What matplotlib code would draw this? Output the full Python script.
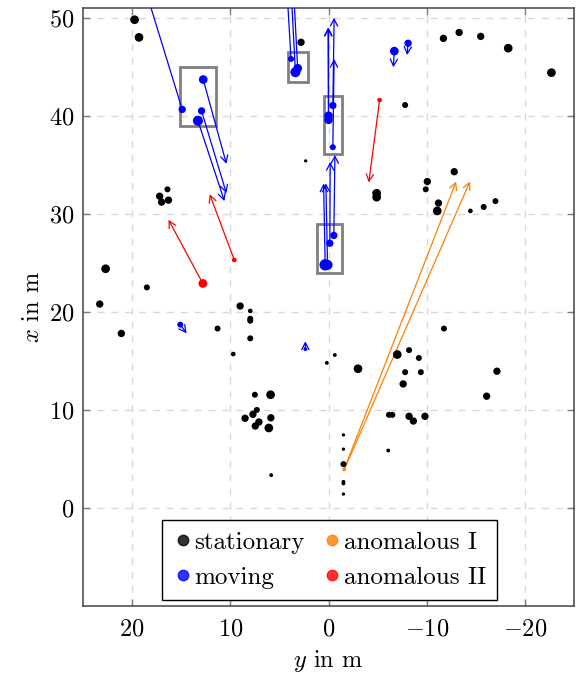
import matplotlib
matplotlib.use("Agg")
import matplotlib.pyplot as plt
from matplotlib.patches import FancyArrowPatch, Rectangle
from matplotlib.lines import Line2D

plt.rcParams["font.family"] = "serif"
plt.rcParams["font.serif"] = ["cmr10"]
plt.rcParams["mathtext.fontset"] = "cm"
plt.rcParams["axes.formatter.use_mathtext"] = True

# stationary detections: y, x, relative size
stat_y = [19.75, 19.3, 2.8, -11.7, -13.3, -15.5, -18.3, -22.7, -7.8, 2.33,
          -4.9, -4.9, -10.06, -9.9, -12.8, -11.2, -11.07, -14.45, -15.8, -17.0,
          17.2, 16.4, 17.0, 16.3, 22.7, 23.3, 21.1, 18.5, 11.3, 9.7,
          9.0, 7.97, 7.97, 7.97, 7.97, 0.17, -0.64, -3.0, -7.0, -8.2,
          -9.2, -7.8, -9.4, -17.15, -11.75, -7.6, -6.15, -6.5, -8.2, -8.64,
          -9.82, -6.08, -16.1, 7.5, 5.9, 7.3, 7.7, 8.5, 5.87, 7.09,
          7.46, 6.08, 5.84, -1.52, -1.52, -1.52, -1.52, -1.52, -1.52]
stat_x = [49.8, 48.0, 47.5, 47.9, 48.5, 48.1, 46.9, 44.4, 41.1, 35.4,
          32.1, 31.7, 33.3, 32.5, 34.3, 31.1, 30.3, 30.3, 30.7, 31.3,
          31.8, 32.5, 31.2, 31.4, 24.4, 20.8, 17.8, 22.5, 18.3, 15.7,
          20.6, 20.1, 19.3, 19.1, 17.3, 14.8, 15.6, 14.2, 15.65, 16.1,
          15.3, 13.85, 13.85, 13.95, 18.3, 12.65, 9.5, 9.5, 9.35, 8.87,
          9.35, 5.86, 11.4, 11.55, 11.55, 10.0, 9.55, 9.15, 9.2, 8.77,
          8.36, 8.16, 3.35, 7.45, 6.0, 4.47, 2.67, 2.5, 1.42]
stat_amp = [3, 3, 2.5, 2.5, 2.5, 2.5, 3, 3, 2, 1,
            3, 3, 2.5, 2, 2.5, 2.5, 3, 1.5, 2, 2,
            2.5, 2, 2.5, 2.5, 3, 2.5, 2.5, 2, 2, 1.5,
            2.5, 1.5, 2, 2, 2, 1.2, 1.2, 3, 3, 2,
            2, 2, 2, 2.5, 2, 2.5, 2, 2, 2.5, 2.5,
            2.5, 1.2, 2.5, 2, 3, 2, 2.5, 2.5, 2.5, 2.5,
            2.5, 3, 1.2, 1, 1, 2, 1.2, 1.2, 1]

# moving detections: start y, x, size, velocity arrow end y, x
mov_y = [12.76, 12.93, 13.3, 14.9, 3.82, 3.37, 3.14, -0.44, 0.0, 0.0,
         -0.44, 0.34, 0.1, -0.13, -0.54, -6.7, -8.1, 15.1, 2.36]
mov_x = [43.7, 40.5, 39.5, 40.65, 45.8, 44.45, 44.85, 41.05, 40.0, 39.6,
         36.8, 24.8, 24.8, 27.0, 27.8, 46.6, 47.4, 18.7, 16.2]
mov_amp = [3, 2.5, 3.5, 2.5, 2, 3.5, 3, 2.5, 3, 3,
           2, 4, 3.5, 2.5, 2.5, 3, 2.5, 2, 1.2]
mov_end_y = [10.4, 10.4, 10.6, 19.3, 4.36, 3.9, 3.65, -0.57, 0.0, 0.05,
             -0.57, 0.5, 0.27, -0.17, -0.65, -6.6, -8.0, 14.45, 2.36]
mov_end_x = [35.1, 32.1, 31.3, 55.0, 55.0, 54.5, 54.5, 50.0, 49.0, 49.0,
             45.8, 33.1, 33.1, 35.3, 36.0, 44.95, 46.2, 17.8, 17.0]

# anomalous I (orange)
an1_y = [-1.6, -1.6]
an1_x = [3.96, 3.9]
an1_amp = [1, 1]
an1_end_y = [-13.0, -14.4]
an1_end_x = [33.3, 33.3]

# anomalous II (red)
an2_y = [12.8, 9.6, -5.2]
an2_x = [22.9, 25.3, 41.6]
an2_amp = [3, 1.5, 1.5]
an2_end_y = [16.3, 12.1, -4.1]
an2_end_x = [29.4, 32.0, 33.2]

# cluster boxes: y_left, y_right, x_bottom, x_top
box_y0 = [15.1, 4.15, 0.47, 1.18]
box_y1 = [11.5, 2.1, -1.42, -1.42]
box_x0 = [39.0, 43.4, 36.1, 23.95]
box_x1 = [45.0, 46.5, 42.0, 29.0]


def msize(amp):
    return [(0.72 * (2.7 * a + 0.6)) ** 2 for a in amp]


fig = plt.figure(figsize=(5.79, 6.75), dpi=100)
ax = fig.add_axes([0.1434, 0.1022, 0.8480, 0.8860])

ax.set_xlim(25, -25)
ax.set_ylim(-10, 51)
ax.set_xticks([20, 10, 0, -10, -20])
ax.set_yticks([0, 10, 20, 30, 40, 50])
ax.grid(True, linestyle=(0, (5, 5)), color="#d9d9d9", linewidth=1.0)
ax.set_axisbelow(True)
ax.tick_params(direction="in", top=True, right=True, length=5, width=1,
               color="#7f7f7f", labelsize=17.5)
ax.tick_params(axis="x", pad=9)
ax.tick_params(axis="y", pad=6)
for sp in ax.spines.values():
    sp.set_color("#444444")
    sp.set_linewidth(1.1)


def arrows(ys, xs, eys, exs, color):
    for y0, x0, y1, x1 in zip(ys, xs, eys, exs):
        ar = FancyArrowPatch((y0, x0), (y1, x1), arrowstyle="->,head_length=5,head_width=2.6",
                             mutation_scale=1, color=color, linewidth=0.9,
                             shrinkA=0, shrinkB=0, zorder=3)
        ax.add_patch(ar)


arrows(mov_y, mov_x, mov_end_y, mov_end_x, "#0000ff")
arrows(an1_y, an1_x, an1_end_y, an1_end_x, "#ff8000")
arrows(an2_y, an2_x, an2_end_y, an2_end_x, "#ff0000")

for y0, y1, x0, x1 in zip(box_y0, box_y1, box_x0, box_x1):
    ax.add_patch(Rectangle((y0, x0), y1 - y0, x1 - x0, fill=False,
                           edgecolor="#808080", linewidth=2.0, zorder=2))

ax.scatter(stat_y, stat_x, s=msize(stat_amp), color="black", linewidths=0, zorder=4)
ax.scatter(mov_y, mov_x, s=msize(mov_amp), color="#0000ff", linewidths=0, zorder=4)
ax.scatter(an1_y, an1_x, s=msize(an1_amp), color="#ff8000", linewidths=0, zorder=4)
ax.scatter(an2_y, an2_x, s=msize(an2_amp), color="#ff0000", linewidths=0, zorder=4)

ax.set_xlabel(r"$y$ in m", fontsize=17.5, labelpad=5)
ax.set_ylabel(r"$x$ in m", fontsize=17.5, labelpad=4)

handles = [
    Line2D([], [], marker="o", linestyle="none", color="black", alpha=0.8, markersize=7.5, label="stationary"),
    Line2D([], [], marker="o", linestyle="none", color="#0000ff", alpha=0.8, markersize=7.5, label="moving"),
    Line2D([], [], marker="o", linestyle="none", color="#ff8000", alpha=0.8, markersize=7.5, label="anomalous I"),
    Line2D([], [], marker="o", linestyle="none", color="#ff0000", alpha=0.8, markersize=7.5, label="anomalous II"),
]
leg = ax.legend(handles=handles, ncol=2, loc="lower center", bbox_to_anchor=(0.502, 0.01),
                fontsize=18, frameon=True, fancybox=False, edgecolor="black",
                handletextpad=0.05, handlelength=0.8, columnspacing=0.7,
                borderpad=0.45, labelspacing=0.5, borderaxespad=0)
leg.get_frame().set_linewidth(1.0)
leg.get_frame().set_alpha(1.0)

fig.savefig("out.png", dpi=100)
